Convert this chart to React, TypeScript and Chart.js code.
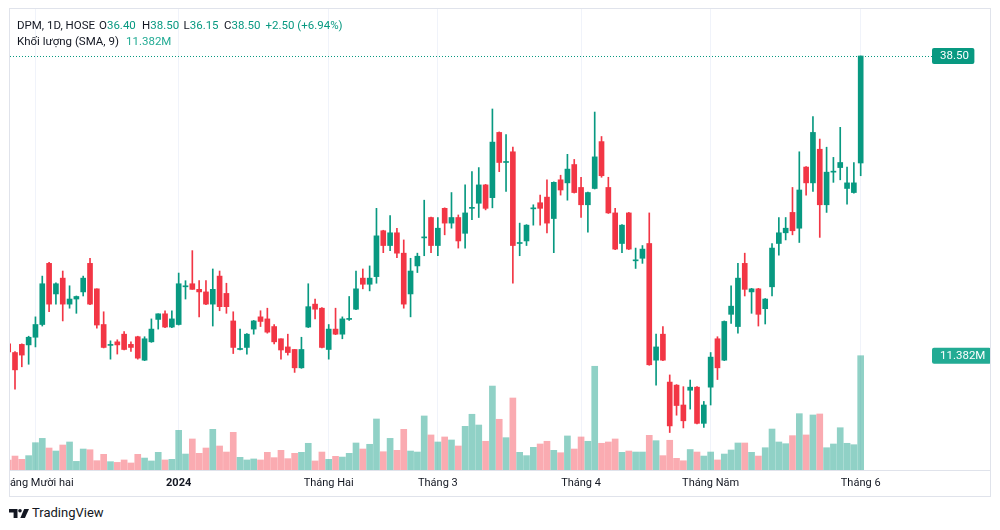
import React, { useEffect, useRef } from 'react';
import { Chart, registerables } from 'chart.js';

Chart.register(...registerables);

// Daily candles, DPM (HOSE), 30 Nov 2023 -> 3 Jun 2024 (index 0 = first, partly hidden candle)
const opens = [
  32.85, 32.68, 32.84, 32.83, 32.98, 33.23, 34.43, 33.83, 34.14, 33.63,
  33.73, 33.87, 34.43, 33.93, 33.23, 32.82, 32.89, 33.04, 32.84, 32.99,
  32.53, 32.89, 33.33, 33.44, 33.18, 33.23, 33.97, 34.03, 33.92, 33.87,
  33.63, 34.18, 33.84, 33.30, 32.74, 32.78, 33.14, 33.38, 33.34, 33.19,
  32.95, 32.79, 32.74, 32.38, 33.18, 33.63, 33.55, 32.74, 33.14, 33.04,
  33.33, 33.53, 34.14, 34.02, 34.17, 35.07, 34.78, 35.03, 34.63, 33.83,
  34.38, 34.93, 35.33, 34.78, 35.51, 35.22, 35.33, 35.02, 35.51, 35.61,
  35.97, 35.72, 37.00, 36.41, 36.62, 34.82, 34.87, 35.50, 35.62, 35.73,
  35.31, 36.07, 36.01, 36.37, 35.92, 35.58, 35.90, 36.82, 35.92, 35.42,
  34.82, 35.42, 34.48, 34.53, 34.82, 32.53, 33.04, 32.10, 32.04, 31.65,
  31.94, 32.00, 31.29, 32.00, 32.95, 32.53, 33.43, 33.19, 34.43, 33.87,
  33.93, 33.54, 33.97, 34.82, 35.03, 35.43, 35.12, 36.32, 36.01, 36.67,
  35.58, 36.22, 36.31, 35.90, 35.82, 36.40,
];
const highs = [
  32.88, 32.70, 32.85, 33.00, 33.38, 34.18, 34.45, 34.05, 34.28, 33.99,
  33.79, 34.18, 34.53, 33.93, 33.48, 32.91, 32.93, 33.09, 32.89, 33.00,
  32.99, 33.34, 33.44, 33.50, 33.50, 34.24, 34.09, 34.68, 34.09, 34.09,
  34.32, 34.28, 34.04, 33.48, 33.14, 33.05, 33.31, 33.50, 33.55, 33.23,
  32.95, 33.04, 32.74, 32.98, 34.03, 33.73, 33.56, 33.23, 33.55, 33.38,
  33.78, 34.28, 34.32, 34.38, 35.51, 35.08, 35.37, 35.12, 34.89, 34.53,
  34.63, 35.67, 35.34, 35.33, 35.52, 35.82, 35.38, 35.97, 36.23, 36.31,
  35.98, 37.46, 37.01, 36.96, 36.71, 35.22, 35.19, 35.58, 35.77, 36.07,
  36.03, 36.16, 36.57, 36.47, 36.12, 35.83, 37.40, 36.92, 36.12, 35.51,
  35.19, 35.43, 34.73, 34.78, 35.42, 33.04, 33.19, 32.24, 32.05, 32.01,
  32.14, 32.01, 31.72, 32.68, 32.99, 33.30, 33.99, 34.43, 34.63, 33.94,
  33.94, 33.74, 34.82, 35.33, 35.33, 35.92, 36.62, 36.33, 37.31, 36.87,
  36.71, 36.51, 37.10, 36.32, 36.41, 38.50,
];
const lows = [
  32.62, 31.96, 32.40, 32.45, 32.79, 33.20, 33.48, 33.63, 33.30, 33.55,
  33.45, 33.79, 33.62, 33.16, 32.77, 32.55, 32.65, 32.73, 32.70, 32.55,
  32.52, 32.88, 33.14, 33.17, 33.17, 33.22, 33.73, 33.92, 33.38, 33.62,
  33.20, 33.50, 33.45, 32.66, 32.73, 32.65, 33.04, 33.19, 33.06, 32.85,
  32.55, 32.63, 32.29, 32.37, 33.17, 33.34, 32.77, 32.55, 33.03, 32.95,
  33.31, 33.52, 33.93, 33.89, 34.04, 34.64, 34.68, 34.54, 33.55, 33.38,
  34.25, 34.58, 34.64, 34.58, 34.99, 35.12, 34.73, 34.73, 35.29, 35.33,
  35.48, 35.52, 36.23, 35.84, 34.04, 34.58, 34.78, 35.18, 35.18, 35.03,
  34.64, 35.77, 35.67, 35.81, 35.33, 35.04, 35.89, 36.12, 35.41, 34.70,
  34.64, 34.70, 34.33, 34.43, 32.43, 32.04, 32.52, 31.11, 31.45, 31.20,
  31.57, 31.28, 31.21, 31.65, 32.15, 32.52, 33.25, 33.06, 33.79, 33.45,
  33.20, 33.24, 33.79, 34.59, 34.89, 34.99, 34.84, 35.77, 35.84, 34.94,
  35.43, 36.02, 36.07, 35.59, 35.81, 36.15,
];
const closes = [
  32.69, 32.34, 32.63, 32.98, 33.23, 34.03, 33.63, 34.03, 33.63, 33.73,
  33.78, 34.14, 33.63, 33.22, 32.78, 32.83, 32.83, 32.74, 32.78, 32.57,
  32.95, 33.14, 33.44, 33.18, 33.34, 34.03, 33.98, 33.92, 33.87, 33.63,
  33.92, 33.58, 33.58, 32.78, 32.74, 33.04, 33.30, 33.29, 33.08, 32.89,
  32.73, 32.68, 32.38, 32.74, 33.58, 33.53, 32.78, 33.14, 33.04, 33.34,
  33.33, 33.93, 34.02, 34.14, 34.97, 34.78, 35.03, 34.63, 33.63, 34.28,
  34.57, 34.93, 34.78, 35.12, 35.22, 35.33, 34.87, 35.42, 35.51, 35.97,
  35.51, 36.81, 36.41, 36.41, 34.78, 34.82, 35.18, 35.51, 35.51, 35.22,
  36.02, 35.87, 36.28, 35.82, 35.58, 35.82, 36.52, 36.15, 35.42, 34.71,
  35.18, 34.71, 34.48, 34.71, 32.44, 32.79, 32.53, 31.24, 31.64, 31.34,
  32.00, 31.29, 31.65, 32.59, 32.38, 33.29, 33.59, 34.14, 33.92, 33.93,
  33.43, 33.73, 34.73, 35.03, 35.12, 35.07, 35.87, 36.01, 37.00, 35.58,
  36.22, 36.22, 36.41, 36.01, 36.01, 38.50,
];
// Volume in millions of shares
const volumes = [
  1.00, 1.39, 1.06, 1.43, 2.72, 3.15, 2.19, 1.89, 2.49, 2.79,
  0.86, 2.09, 2.02, 0.93, 1.56, 0.83, 0.76, 1.00, 0.70, 1.56,
  1.19, 0.90, 1.76, 1.00, 1.06, 3.95, 1.59, 3.09, 1.66, 2.19,
  4.05, 2.39, 1.79, 3.75, 1.26, 1.00, 1.10, 1.00, 1.76, 1.23,
  1.96, 1.13, 1.66, 1.76, 2.66, 0.90, 1.79, 1.06, 1.36, 1.29,
  1.66, 2.69, 2.09, 2.56, 5.08, 1.82, 3.15, 1.96, 4.05, 1.89,
  1.79, 5.38, 3.49, 2.79, 3.29, 2.99, 2.39, 4.35, 5.55, 4.48,
  2.86, 8.36, 5.05, 3.22, 7.17, 1.76, 1.43, 2.26, 2.59, 2.86,
  1.96, 1.72, 3.39, 2.09, 3.29, 2.86, 10.33, 2.66, 2.79, 3.09,
  1.76, 1.89, 1.79, 1.79, 3.45, 2.92, 1.43, 2.96, 1.16, 0.92,
  2.04, 1.79, 1.39, 1.79, 1.00, 1.59, 1.99, 2.69, 2.69, 1.76,
  1.39, 2.22, 4.08, 2.79, 2.62, 3.42, 5.61, 3.49, 5.48, 5.58,
  2.22, 2.59, 4.21, 2.66, 2.52, 11.382,
];

const monthTickIndex = [4, 25, 47, 63, 84, 103, 125];
const monthLabels = ['Tháng Mười hai', '2024', 'Tháng Hai', 'Tháng 3', 'Tháng 4', 'Tháng Năm', 'Tháng 6'];
const boldTickLabels = ['2024'];

const symbolLine = 'DPM, 1D, HOSE';
const volumeTitle = 'Khối lượng (SMA, 9)';
const volumeValueText = '11.382M';
const lastPriceText = '38.50';
const changeText = '+2.50';
const changePctText = '(+6.94%)';

const UP = '#089981';
const DOWN = '#F23645';
const UP_VOL = 'rgba(8,153,129,0.45)';
const DOWN_VOL = 'rgba(242,54,69,0.42)';
const TEXT = '#131722';
const FONT = 'Roboto, "Noto Sans", sans-serif';

const n = opens.length;
const last = n - 1;
const isUp = (k: number) => closes[k] >= opens[k];

function drawTag(ctx: CanvasRenderingContext2D, text: string, x: number, y: number, bg: string) {
  ctx.font = `11.5px ${FONT}`;
  const w = ctx.measureText(text).width + 13.5;
  const h = 16;
  const top = y - h / 2;
  ctx.fillStyle = bg;
  ctx.beginPath();
  const r = 2;
  ctx.moveTo(x + r, top);
  ctx.lineTo(x + w - r, top);
  ctx.quadraticCurveTo(x + w, top, x + w, top + r);
  ctx.lineTo(x + w, top + h - r);
  ctx.quadraticCurveTo(x + w, top + h, x + w - r, top + h);
  ctx.lineTo(x + r, top + h);
  ctx.quadraticCurveTo(x, top + h, x, top + h - r);
  ctx.lineTo(x, top + r);
  ctx.quadraticCurveTo(x, top, x + r, top);
  ctx.fill();
  ctx.fillStyle = '#ffffff';
  ctx.textAlign = 'left';
  ctx.textBaseline = 'middle';
  ctx.fillText(text, x + 8, y + 0.5);
}

const overlayPlugin = {
  id: 'tvOverlay',
  beforeDatasetsDraw(chart: any) {
    const { ctx, chartArea, scales } = chart;
    const yP = Math.round(scales.y.getPixelForValue(closes[last])) + 0.5;
    ctx.save();
    ctx.strokeStyle = UP;
    ctx.lineWidth = 1;
    ctx.setLineDash([1, 2]);
    ctx.beginPath();
    ctx.moveTo(chartArea.left, yP);
    ctx.lineTo(chartArea.right + 4, yP);
    ctx.stroke();
    ctx.restore();
  },
  afterDraw(chart: any) {
    const { ctx, chartArea, scales } = chart;
    ctx.save();
    ctx.strokeStyle = '#e0e3eb';
    ctx.lineWidth = 1;
    ctx.beginPath();
    ctx.moveTo(0, chartArea.bottom + 0.5);
    ctx.lineTo(chart.width, chartArea.bottom + 0.5);
    ctx.stroke();
    const yP = scales.y.getPixelForValue(closes[last]);
    const yV = scales.yv.getPixelForValue(volumes[last]);
    drawTag(ctx, lastPriceText, chartArea.right + 4, yP, UP);
    drawTag(ctx, volumeValueText, chartArea.right + 4, yV, '#22ab94');
    ctx.restore();
  },
};

function CandleChart() {
  const ref = useRef<HTMLCanvasElement | null>(null);
  useEffect(() => {
    if (!ref.current) return;
    const idx = opens.map((_, k) => k);
    const chart = new Chart(ref.current, {
      type: 'bar',
      data: {
        datasets: [
          {
            label: 'body',
            data: idx.map((k) => ({ x: k, y: [opens[k], closes[k]] })) as any,
            backgroundColor: idx.map((k) => (isUp(k) ? UP : DOWN)),
            barThickness: 5,
            minBarLength: 1,
            yAxisID: 'y',
            order: 1,
            grouped: false,
          } as any,
          {
            label: 'wick',
            data: idx.map((k) => ({ x: k, y: [lows[k], highs[k]] })) as any,
            backgroundColor: idx.map((k) => (isUp(k) ? UP : DOWN)),
            barThickness: 1,
            minBarLength: 1,
            yAxisID: 'y',
            order: 2,
            grouped: false,
          } as any,
          {
            label: 'volume',
            data: idx.map((k) => ({ x: k, y: volumes[k] })) as any,
            backgroundColor: idx.map((k) => (isUp(k) ? UP_VOL : DOWN_VOL)),
            barThickness: 6,
            yAxisID: 'yv',
            order: 3,
            grouped: false,
          } as any,
        ],
      },
      options: {
        animation: false,
        responsive: false,
        maintainAspectRatio: false,
        events: [],
        layout: { padding: { left: 0, top: 0, right: 62, bottom: 0 } },
        plugins: { legend: { display: false }, tooltip: { enabled: false } },
        scales: {
          x: {
            type: 'linear',
            min: 0.267,
            max: 134.87,
            offset: false,
            position: 'bottom',
            afterBuildTicks: (s: any) => {
              s.ticks = monthTickIndex.map((v) => ({ value: v }));
            },
            afterFit: (s: any) => {
              s.height = 26;
              s.paddingLeft = 0;
              s.paddingRight = 0;
            },
            ticks: {
              autoSkip: false,
              maxRotation: 0,
              padding: 7,
              color: TEXT,
              callback: (v: any) => {
                const i = monthTickIndex.indexOf(Number(v));
                return i >= 0 ? monthLabels[i] : '';
              },
              font: (c: any) => {
                const i = c.tick ? monthTickIndex.indexOf(c.tick.value) : -1;
                const bold = i >= 0 && boldTickLabels.includes(monthLabels[i]);
                return { family: FONT, size: 11, weight: bold ? 'bold' : 'normal' };
              },
            },
            grid: { color: '#f0f3fa', drawTicks: false, offset: false },
            border: { display: false },
          } as any,
          y: { display: false, min: 30.3744, max: 39.4225 },
          yv: { display: false, min: 0, max: 45.906 },
        },
      },
      plugins: [overlayPlugin],
    });
    return () => chart.destroy();
  }, []);
  return (
    <canvas
      ref={ref}
      width={980}
      height={487}
      style={{ position: 'absolute', left: 10, top: 9, width: 980, height: 487 }}
    />
  );
}

const seg = (left: number, top: number, children: React.ReactNode) => (
  <div style={{ position: 'absolute', left, top, whiteSpace: 'nowrap', lineHeight: '14px' }}>{children}</div>
);

export default function App() {
  const headerFont: React.CSSProperties = { fontFamily: FONT, fontSize: 11.5, color: TEXT };
  const val = (t: string, c = UP) => <span style={{ color: c }}>{t}</span>;
  return (
    <div style={{ position: 'fixed', left: 0, top: 0, width: 1000, height: 530, background: '#ffffff', overflow: 'hidden' }}>
      <div
        style={{
          position: 'absolute', left: 9, top: 8, width: 982, height: 489,
          boxSizing: 'border-box', border: '1px solid #e0e3eb',
        }}
      />
      <CandleChart />
      <div style={{ ...headerFont, position: 'absolute', left: 0, top: 0, width: 1000, height: 60 }}>
        {seg(17, 17.5, symbolLine)}
        {seg(99, 17.5, <>O{val(opens[last].toFixed(2))}</>)}
        {seg(142, 17.5, <>H{val(highs[last].toFixed(2))}</>)}
        {seg(183.5, 17.5, <>L{val(lows[last].toFixed(2))}</>)}
        {seg(224, 17.5, <>C{val(closes[last].toFixed(2))}</>)}
        {seg(265.5, 17.5, <>{val(changeText)} {val(changePctText)}</>)}
        {seg(17, 34, volumeTitle)}
        {seg(126, 34, val(volumeValueText, '#22ab94'))}
      </div>
      <div style={{ position: 'absolute', left: 9, top: 505, display: 'flex', alignItems: 'center' }}>
        <svg width="20" height="9" viewBox="0 0 20 9" style={{ display: 'block' }}>
          <path d="M0 0H8.5V9H4.6V3.4H0Z" fill={TEXT} />
          <circle cx="11" cy="1.8" r="1.8" fill={TEXT} />
          <path d="M15.2 0H20L15.9 9H11.3Z" fill={TEXT} />
        </svg>
        <span style={{ marginLeft: 3, fontFamily: FONT, fontSize: 13, color: TEXT, lineHeight: '16px' }}>TradingView</span>
      </div>
    </div>
  );
}
